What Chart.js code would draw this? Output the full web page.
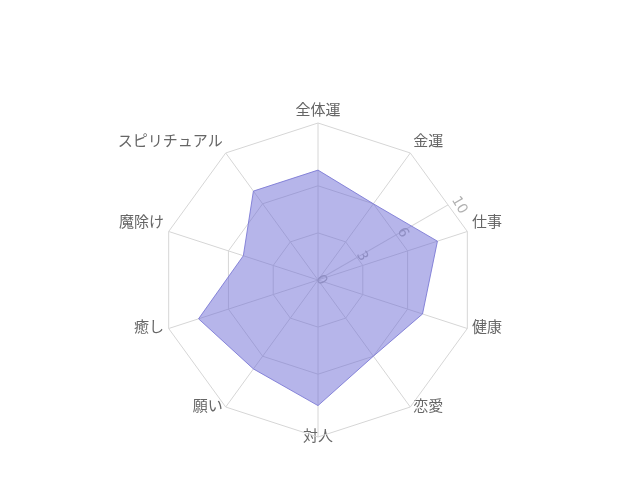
<!DOCTYPE html>
<html>
<head>
<meta charset="utf-8">
<script src="https://cdn.jsdelivr.net/npm/chart.js@4.4.0/dist/chart.umd.min.js"></script>
<style>
html,body{margin:0;padding:0;background:#fff;}
#wrap{width:640px;height:480px;}
</style>
</head>
<body>
<div id="wrap"><canvas id="c" width="640" height="480"></canvas></div>
<script>
const categories = ['全体運','金運','仕事','健康','恋愛','対人','願い','癒し','魔除け','スピリチュアル'];
const seriesValues = [7,6,8,7,6,8,7,8,5,7];
const tickValues = [0,3,6,10];
const tickLabels = ['0','3','6','10'];
const tickAngleDeg = 60;
const labelFontSize = 15;

// Lower-half point labels sit centred on their outer vertex (older Chart.js look)
const lowerLabelShift = {
  id: 'lowerLabelShift',
  afterLayout(chart) {
    const s = chart.scales.r;
    const items = s._pointLabelItems || [];
    const lh = labelFontSize * 1.2;
    const R = s.getDistanceFromCenterForValue(s.max);
    items.forEach((it, i) => {
      const deg = s.getIndexAngle(i) * 180 / Math.PI;
      if (deg > 90 && deg < 270) {
        const vy = s.getPointPosition(i, R).y;
        const newTop = vy - 2 - lh / 2;
        const dy = newTop - it.y;
        it.y += dy;
        it.top += dy;
        it.bottom += dy;
      }
    });
  }
};

const rotatedTicks = {
  id: 'rotatedTicks',
  beforeDatasetsDraw(chart) {
    const s = chart.scales.r;
    const ctx = chart.ctx;
    const a = tickAngleDeg * Math.PI / 180;
    const maxR = s.getDistanceFromCenterForValue(s.max);
    const n = categories.length;
    const step = 2 * Math.PI / n;
    const rel = a - Math.floor(a / step) * step - step / 2;
    const edgeR = maxR * Math.cos(step / 2) / Math.cos(rel);
    ctx.save();
    ctx.translate(s.xCenter, s.yCenter);
    ctx.rotate(a);
    ctx.strokeStyle = '#d6d6d6';
    ctx.lineWidth = 1;
    ctx.beginPath();
    ctx.moveTo(0, 0);
    ctx.lineTo(0, -edgeR);
    ctx.stroke();
    ctx.font = '14px "DejaVu Sans", "Noto Sans", sans-serif';
    ctx.fillStyle = '#b0b0b0';
    ctx.textAlign = 'left';
    ctx.textBaseline = 'alphabetic';
    tickValues.forEach((v, i) => {
      const d = s.getDistanceFromCenterForValue(v);
      ctx.fillText(tickLabels[i], -3, -d + 1);
    });
    ctx.restore();
  }
};

new Chart(document.getElementById('c'), {
  type: 'radar',
  data: {
    labels: categories,
    datasets: [{
      label: '',
      data: seriesValues,
      backgroundColor: 'rgba(110,108,214,0.5)',
      borderColor: 'rgba(120,118,212,0.85)',
      borderWidth: 1,
      pointRadius: 0,
      pointHoverRadius: 0
    }]
  },
  options: {
    responsive: false,
    animation: false,
    devicePixelRatio: 1,
    layout: { padding: { top: 100, bottom: 20, right: 4 } },
    plugins: { legend: { display: false }, tooltip: { enabled: false } },
    scales: {
      r: {
        min: 0,
        max: 10,
        afterBuildTicks(scale) { scale.ticks = tickValues.map(v => ({ value: v })); },
        ticks: { display: false },
        grid: { color: '#d6d6d6' },
        angleLines: { color: '#d6d6d6' },
        pointLabels: {
          color: '#666',
          font: { size: labelFontSize, family: '"Noto Sans CJK JP", sans-serif' }
        }
      }
    }
  },
  plugins: [lowerLabelShift, rotatedTicks]
});
</script>
</body>
</html>
